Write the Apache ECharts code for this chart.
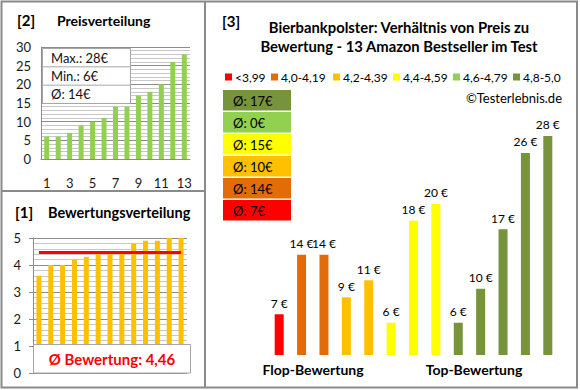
<!DOCTYPE html>
<html><head><meta charset="utf-8">
<script src="https://cdn.jsdelivr.net/npm/echarts@6/dist/echarts.min.js"></script>
<style>html,body{margin:0;padding:0;background:#fff}#c{width:580px;height:390px}</style>
</head><body><div id="c"></div>
<script>
// ---- data ----
const categories = ['1','2','3','4','5','6','7','8','9','10','11','12','13'];
const pricesSorted = [6,6,7,9,10,11,14,14,17,18,20,26,28];
const ratings = [3.6,4.0,4.0,4.2,4.3,4.4,4.4,4.5,4.8,4.9,4.9,5.0,5.0];
const pricesByRating = [7,14,14,9,11,6,18,20,6,10,17,26,28];
const avgRating = 4.46;
const avgRatingLabel = 'Ø Bewertung: 4,46';
const statLabels = ['Max.: 28€','Min.: 6€','Ø: 14€'];
const groupNames = ['<3,99','4,0-4,19','4,2-4,39','4,4-4,59','4,6-4,79','4,8-5,0'];
const groupLower = [0,4.0,4.2,4.4,4.6,4.8];
const groupAvgPrice = [7,14,10,15,0,17];
const priceTicks = [0,5,10,15,20,25,30];
const ratingTicks = [0,1,2,3,4,5];

// ---- styles / layout ----
const groupColors = ['#FF0000','#E36C09','#FFC000','#FFFF00','#92D050','#77933C'];
const legendX = [225,271,333,393,453,513];
const FONT = 'Lato, "Open Sans", sans-serif';
const GRID = '#8c8c8c', MINOR = '#c8c8c8', FRAME = '#8a8a8a';

function groupOf(r){ let g=0; for(let i=0;i<groupLower.length;i++){ if(r>=groupLower[i]-1e-9) g=i; } return g; }
const barGroup = ratings.map(groupOf);

const chart = echarts.init(document.getElementById('c'), null, {renderer:'svg'});

const rightSeries = groupNames.map((name, gi) => ({
  name: name, type:'bar', xAxisIndex:2, yAxisIndex:2, stack:'r', barWidth:9,
  itemStyle:{color:groupColors[gi]},
  label:{show:true, position:'top', distance:5, color:'#000', fontFamily:FONT, fontSize:12,
         formatter: p => p.value + ' €'},
  data: pricesByRating.map((v,i) => barGroup[i]===gi ? v : '-')
}));

const graphics = [];
// frame
graphics.push({type:'rect', shape:{x:1.5,y:1.5,width:575.5,height:386}, style:{fill:'none', stroke:FRAME, lineWidth:2}, z:200});
graphics.push({type:'line', shape:{x1:205,y1:1,x2:205,y2:388}, style:{stroke:FRAME, lineWidth:2}, z:200});
graphics.push({type:'line', shape:{x1:1,y1:191,x2:205,y2:191}, style:{stroke:FRAME, lineWidth:2}, z:200});
// titles
function txt(t,x,y,opts){ graphics.push({type:'text', z:200, style:Object.assign({text:t,x:x,y:y,fill:'#000',font:'bold 14px '+FONT,align:'left',verticalAlign:'middle'},opts||{})}); }
txt('[2]',17,20,{font:'bold 15px '+FONT});
txt('Preisverteilung',57,20);
txt('[1]',15,212,{font:'bold 15px '+FONT});
txt('Bewertungsverteilung',48,212,{font:'bold 14.5px '+FONT});
txt('[3]',222,21,{font:'bold 15px '+FONT});
txt('Bierbankpolster: Verhältnis von Preis zu',399,27,{align:'center',font:'bold 14.8px '+FONT});
txt('Bewertung - 13 Amazon Bestseller im Test',399,46,{align:'center',font:'bold 14.8px '+FONT});
txt('©Testerlebnis.de',562,98,{align:'right',font:'13px '+FONT});
txt('Flop-Bewertung',313,369,{align:'center'});
txt('Top-Bewertung',474,369,{align:'center'});
// legend
groupNames.forEach((n,gi)=>{
  graphics.push({type:'rect', z:150, shape:{x:legendX[gi],y:73.5,width:7,height:7}, style:{fill:groupColors[gi]}});
  graphics.push({type:'text', z:150, style:{text:n, x:legendX[gi]+10, y:77.5, font:'12px '+FONT, fill:'#000', align:'left', verticalAlign:'middle'}});
});
// stats box
graphics.push({type:'rect', z:150, shape:{x:42.5,y:48.5,width:88,height:55}, style:{fill:'#fff', stroke:'#a6a6a6', lineWidth:1}});
statLabels.forEach((s,i)=>{
  if(i>0) graphics.push({type:'line', z:151, shape:{x1:42.5,y1:48.5+i*18.33,x2:130.5,y2:48.5+i*18.33}, style:{stroke:'#a6a6a6',lineWidth:1}});
  graphics.push({type:'text', z:152, style:{text:s, x:51, y:57.5+i*18.33, font:'13px '+FONT, fill:'#111', align:'left', verticalAlign:'middle'}});
});
// rating average box
graphics.push({type:'rect', z:150, shape:{x:33.5,y:344.5,width:157,height:28.5}, style:{fill:'#fff', stroke:'#a6a6a6', lineWidth:1}});
graphics.push({type:'text', z:152, style:{text:avgRatingLabel, x:112, y:358.5, font:'bold 15px '+FONT, fill:'#FF0000', align:'center', verticalAlign:'middle'}});
// group average boxes (top: best group)
for(let k=0;k<groupNames.length;k++){
  const gi = groupNames.length-1-k;
  const top = 90 + k*22;
  graphics.push({type:'rect', z:150, shape:{x:223,y:top,width:68,height:20.5}, style:{fill:groupColors[gi]}});
  graphics.push({type:'text', z:152, style:{text:'Ø: '+groupAvgPrice[gi]+'€', x:233, y:top+10.5, font:'13px '+FONT, fill:'#000', align:'left', verticalAlign:'middle'}});
}

const axisLbl = {color:'#1a1a1a', fontFamily:FONT, fontSize:13};

chart.setOption({
  animation:false,
  textStyle:{fontFamily:FONT},
  grid:[
    {left:41, top:47, width:149, height:112},
    {left:33, top:238, width:154, height:135},
    {left:268, top:119, width:291, height:236}
  ],
  xAxis:[
    {gridIndex:0, type:'category', data:categories, axisLine:{lineStyle:{color:GRID}}, axisTick:{show:false},
     axisLabel:Object.assign({interval:1, margin:17}, axisLbl)},
    {gridIndex:1, type:'category', data:categories, axisLine:{show:false}, axisTick:{show:false}, axisLabel:{show:false}},
    {gridIndex:2, type:'category', data:categories, show:false}
  ],
  yAxis:[
    {gridIndex:0, type:'value', min:priceTicks[0], max:priceTicks[priceTicks.length-1], interval:5,
     axisLine:{show:true, lineStyle:{color:GRID}}, axisTick:{show:false},
     axisLabel:Object.assign({margin:10}, axisLbl),
     splitLine:{lineStyle:{color:GRID}}, minorTick:{show:false, splitNumber:5}, minorSplitLine:{show:true, lineStyle:{color:MINOR}}},
    {gridIndex:1, type:'value', min:ratingTicks[0], max:ratingTicks[ratingTicks.length-1], interval:1,
     axisLine:{show:true, lineStyle:{color:GRID}}, axisTick:{show:true, length:4, lineStyle:{color:GRID}},
     axisLabel:Object.assign({margin:12}, axisLbl),
     splitLine:{lineStyle:{color:GRID}}, minorTick:{show:false, splitNumber:5}, minorSplitLine:{show:true, lineStyle:{color:MINOR}}},
    {gridIndex:2, type:'value', min:2.2, max:30, show:false, splitLine:{show:false}}
  ],
  series:[
    {type:'bar', xAxisIndex:0, yAxisIndex:0, barWidth:5, itemStyle:{color:'#92D050'}, data:pricesSorted},
    {type:'bar', xAxisIndex:1, yAxisIndex:1, barWidth:5, itemStyle:{color:'#FFC000'}, data:ratings,
     markLine:{silent:true, symbol:['none','none'], label:{show:false}, lineStyle:{color:'#FF0000', width:3, type:'solid'},
       data:[[{coord:[0,avgRating]},{coord:[categories.length-1,avgRating]}]]}}
  ].concat(rightSeries),
  graphic:graphics
});
</script></body></html>
